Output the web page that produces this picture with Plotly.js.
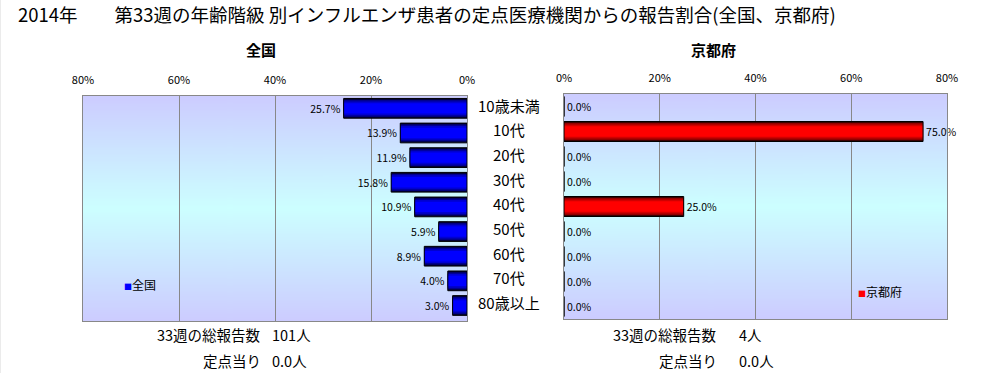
<!DOCTYPE html>
<html>
<head>
<meta charset="utf-8">
<script src="https://cdn.plot.ly/plotly-3.0.1.min.js"></script>
<style>
html,body{margin:0;padding:0;background:#fff;}
#chart{width:1006px;height:373px;}
</style>
</head>
<body>
<div id="chart"></div>
<script>
// ---- data ----
var categories = ['10歳未満','10代','20代','30代','40代','50代','60代','70代','80歳以上'];
var nationalPct = [25.7, 13.9, 11.9, 15.8, 10.9, 5.9, 8.9, 4.0, 3.0];
var kyotoPct = [0.0, 75.0, 0.0, 0.0, 25.0, 0.0, 0.0, 0.0, 0.0];
var tickValues = [0, 20, 40, 60, 80];
var tickLabels = ['0%', '20%', '40%', '60%', '80%'];
var titleText = '2014年　　第33週の年齢階級 別インフルエンザ患者の定点医療機関からの報告割合(全国、京都府)';
var panelNames = ['全国', '京都府'];
var summaryLabels = ['33週の総報告数', '定点当り'];
var nationalSummary = ['101人', '0.0人'];
var kyotoSummary = ['4人', '0.0人'];

var W = 1006, H = 373;
function px(x){ return x / W; }
function py(y){ return (H - y) / H; }

var FONT = '"Noto Sans CJK JP", "Noto Sans", sans-serif';

// gradient background image for plot areas
function gradientURI(){
  var c = document.createElement('canvas');
  c.width = 4; c.height = 256;
  var g = c.getContext('2d');
  var gr = g.createLinearGradient(0,0,0,256);
  gr.addColorStop(0, '#ccccff');
  gr.addColorStop(0.5, '#ccffff');
  gr.addColorStop(1, '#ccccff');
  g.fillStyle = gr; g.fillRect(0,0,4,256);
  return c.toDataURL('image/png');
}
var bgImg = gradientURI();

// layered bars to imitate the shaded (gradient) bars
var blueLayers = [['#00003c',0.8],['#000090',0.68],['#0000d0',0.56],['#0000ff',0.42]];
var redLayers  = [['#3c0000',0.8],['#900000',0.68],['#d00000',0.56],['#ff0000',0.42]];

var traces = [];
function addSeries(values, layers, xa, ya, name){
  layers.forEach(function(l){
    traces.push({
      type:'bar', orientation:'h', x: values, y: categories,
      xaxis: xa, yaxis: ya, width: l[1], name: name, showlegend:false,
      marker:{color:l[0], line:{width:0}}, hoverinfo:'skip'
    });
  });
  traces.push({
    type:'bar', orientation:'h', x: values, y: categories,
    xaxis: xa, yaxis: ya, width: 0.8, name: name, showlegend:false,
    marker:{color:'rgba(0,0,0,0)', line:{width:1, color:'#000'}},
    text: values.map(function(v){ return v.toFixed(1) + '%'; }),
    textposition:'outside', cliponaxis:false,
    textfont:{family:FONT, size:10.5, color:'#000'},
    hovertemplate: '%{y}: %{x:.1f}%<extra>' + name + '</extra>'
  });
}
addSeries(nationalPct, blueLayers, 'x', 'y', panelNames[0]);
addSeries(kyotoPct, redLayers, 'x2', 'y2', panelNames[1]);

var axX = {
  side:'top', range:[0,80], tickmode:'array', tickvals: tickValues, ticktext: tickLabels,
  showgrid:true, gridcolor:'#888', gridwidth:1, zeroline:false,
  showline:true, linecolor:'#888', linewidth:1, mirror:true, ticks:'',
  ticklabelstandoff: 7,
  tickfont:{family:FONT, size:11, color:'#000'}, fixedrange:true
};
var axY = {
  type:'category', categoryorder:'array', categoryarray: categories,
  autorange:'reversed', showticklabels:false, showgrid:false, zeroline:false,
  showline:true, linecolor:'#888', linewidth:1, mirror:true, ticks:'', fixedrange:true
};

function ann(o){ o.showarrow = false; if(!o.yanchor) o.yanchor = 'middle'; return o; }
var annotations = [];
// panel titles
annotations.push(ann({text:'<b>'+panelNames[0]+'</b>', xref:'paper', yref:'paper', x:px(244), y:py(50), font:{family:FONT,size:15,color:'#000'}}));
annotations.push(ann({text:'<b>'+panelNames[1]+'</b>', xref:'paper', yref:'paper', x:px(738), y:py(50), font:{family:FONT,size:15,color:'#000'}}));
// category labels between the panels
categories.forEach(function(c){
  annotations.push(ann({text:c, xref:'paper', yref:'y', x:px(509), y:c, yshift:3, xanchor:'center', font:{family:FONT,size:15,color:'#000'}}));
});
// legends
annotations.push(ann({text:'<span style="color:#0000ff;font-size:8px">■</span>'+panelNames[0], xref:'paper', yref:'paper', x:px(122), y:py(284), xanchor:'left', font:{family:FONT,size:12,color:'#000'}}));
annotations.push(ann({text:'<span style="color:#ff0000;font-size:8px">■</span>'+panelNames[1], xref:'paper', yref:'paper', x:px(856), y:py(291), xanchor:'left', font:{family:FONT,size:12,color:'#000'}}));
// summary texts
var sumRows = [334, 360];
summaryLabels.forEach(function(lab, i){
  annotations.push(ann({text:lab, xref:'paper', yref:'paper', x:px(263), y:py(sumRows[i]), xanchor:'right', font:{family:FONT,size:14.5,color:'#000'}}));
  annotations.push(ann({text:nationalSummary[i], xref:'paper', yref:'paper', x:px(270), y:py(sumRows[i]), xanchor:'left', font:{family:FONT,size:14.5,color:'#000'}}));
  annotations.push(ann({text:lab, xref:'paper', yref:'paper', x:px(719), y:py(sumRows[i]), xanchor:'right', font:{family:FONT,size:14.5,color:'#000'}}));
  annotations.push(ann({text:kyotoSummary[i], xref:'paper', yref:'paper', x:px(737), y:py(sumRows[i]), xanchor:'left', font:{family:FONT,size:14.5,color:'#000'}}));
});

var layout = {
  width: W, height: H,
  margin:{l:0, r:0, t:0, b:0},
  paper_bgcolor:'#ffffff', plot_bgcolor:'rgba(0,0,0,0)',
  barmode:'overlay', showlegend:false,
  font:{family:FONT, color:'#000'},
  title:{text:titleText, x:px(18), xanchor:'left', y:py(16), yanchor:'middle', font:{family:FONT, size:18.5, color:'#000'}},
  xaxis: Object.assign({}, axX, {domain:[px(83), px(467)], anchor:'y', range:[80,0]}),
  yaxis: Object.assign({}, axY, {domain:[py(321), py(96)], anchor:'x'}),
  xaxis2: Object.assign({}, axX, {domain:[px(564), px(947)], anchor:'y2'}),
  yaxis2: Object.assign({}, axY, {domain:[py(319), py(94)], anchor:'x2'}),
  images:[
    {source:bgImg, xref:'x domain', yref:'y domain', x:0, y:1, sizex:1, sizey:1, sizing:'stretch', xanchor:'left', yanchor:'top', layer:'below'},
    {source:bgImg, xref:'x2 domain', yref:'y2 domain', x:0, y:1, sizex:1, sizey:1, sizing:'stretch', xanchor:'left', yanchor:'top', layer:'below'}
  ],
  shapes:[
    {type:'line', xref:'paper', yref:'paper', x0:0, x1:0, y0:0, y1:1, line:{color:'#d8d8d8', width:1}}
  ],
  annotations: annotations
};

Plotly.newPlot('chart', traces, layout, {displayModeBar:false, staticPlot:true});
</script>
</body>
</html>
